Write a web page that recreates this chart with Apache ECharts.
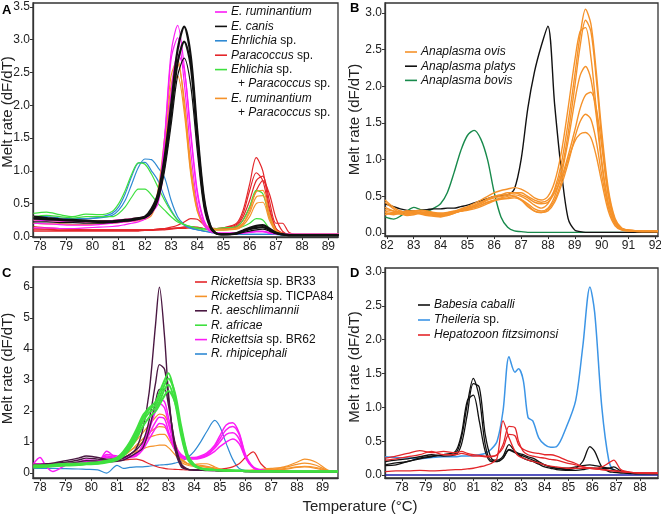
<!DOCTYPE html>
<html>
<head>
<meta charset="utf-8">
<script src="https://cdn.jsdelivr.net/npm/echarts@6/dist/echarts.min.js"></script>
<style>
  html, body { margin: 0; padding: 0; background: #fff; }
  #chart { width: 661px; height: 516px; }
</style>
</head>
<body>
<div id="chart"></div>
<script>
// ---- A: Ehrlichia / Paracoccus ----
var tA = [77.75, 78.25, 78.75, 79.25, 79.75, 80.25, 80.75, 81, 81.25, 81.5, 81.75, 82, 82.25, 82.5, 82.75, 83, 83.25, 83.5, 83.75, 84, 84.25, 84.5, 84.75, 85, 85.5, 85.75, 86, 86.25, 86.5, 86.75, 87, 87.25, 87.5, 88, 88.5, 89, 89.4];
var aRum1 = [0.2,0.19,0.18,0.17,0.17,0.18,0.2,0.21,0.22,0.23,0.25,0.3,0.4,0.6,1.5,2.8,3.22,2.6,1.55,0.65,0.22,0.08,0.05,0.05,0.05,0.06,0.07,0.08,0.08,0.06,0.04,0.03,0.03,0.03,0.03,0.03,0.03];
var aRum2 = [0.13,0.13,0.12,0.12,0.13,0.14,0.15,0.16,0.18,0.2,0.22,0.26,0.35,0.55,1.45,2.7,3.03,2.35,1.3,0.5,0.17,0.07,0.05,0.04,0.04,0.05,0.06,0.07,0.07,0.05,0.04,0.03,0.03,0.03,0.03,0.03,0.03];
var aRum3 = [0.25,0.24,0.23,0.22,0.22,0.23,0.24,0.25,0.26,0.27,0.28,0.3,0.36,0.5,1.1,2.2,2.78,2.55,1.6,0.7,0.25,0.09,0.05,0.05,0.05,0.05,0.06,0.07,0.07,0.05,0.04,0.03,0.03,0.03,0.03,0.03,0.03];
var aCanis1 = [0.3,0.28,0.26,0.25,0.24,0.23,0.23,0.24,0.25,0.26,0.28,0.3,0.42,0.65,1.2,2.0,2.85,3.2,2.75,1.6,0.6,0.16,0.04,0.03,0.05,0.09,0.13,0.16,0.17,0.12,0.06,0.03,0.02,0.02,0.02,0.02,0.02];
var aCanis2 = [0.27,0.26,0.25,0.24,0.23,0.22,0.22,0.23,0.24,0.25,0.27,0.29,0.38,0.6,1.1,1.85,2.65,2.97,2.6,1.5,0.55,0.15,0.04,0.03,0.04,0.08,0.11,0.13,0.14,0.1,0.05,0.03,0.02,0.02,0.02,0.02,0.02];
var aCanis3 = [0.22,0.22,0.21,0.21,0.2,0.2,0.21,0.22,0.23,0.24,0.26,0.28,0.35,0.55,1.0,1.7,2.45,2.72,2.3,1.3,0.45,0.12,0.04,0.03,0.04,0.06,0.08,0.1,0.11,0.08,0.04,0.03,0.02,0.02,0.02,0.02,0.02];
var aEhr1 = [0.3,0.3,0.28,0.27,0.27,0.28,0.32,0.4,0.55,0.8,1.05,1.18,1.17,1.05,0.9,0.55,0.3,0.18,0.13,0.1,0.08,0.06,0.05,0.04,0.03,0.03,0.03,0.03,0.03,0.03,0.03,0.02,0.02,0.02,0.02,0.02,0.02];
var aEhr2 = [0.28,0.27,0.26,0.26,0.27,0.29,0.35,0.45,0.65,0.92,1.12,1.13,1.0,0.85,0.6,0.4,0.25,0.17,0.12,0.1,0.08,0.06,0.05,0.04,0.03,0.03,0.03,0.03,0.03,0.03,0.03,0.02,0.02,0.02,0.02,0.02,0.02];
var aPara1 = [0.15,0.13,0.12,0.11,0.1,0.1,0.1,0.1,0.1,0.1,0.1,0.1,0.1,0.11,0.12,0.12,0.13,0.14,0.15,0.14,0.12,0.11,0.12,0.13,0.2,0.4,0.8,1.2,1.0,0.45,0.12,0.05,0.03,0.02,0.02,0.02,0.02];
var aPara2 = [0.12,0.11,0.1,0.1,0.1,0.1,0.1,0.1,0.1,0.1,0.1,0.1,0.1,0.11,0.12,0.14,0.17,0.22,0.27,0.26,0.18,0.13,0.12,0.13,0.18,0.35,0.7,0.97,0.85,0.4,0.12,0.05,0.03,0.02,0.02,0.02,0.02];
var aPara3 = [0.1,0.1,0.09,0.09,0.09,0.09,0.09,0.09,0.09,0.09,0.09,0.09,0.1,0.1,0.11,0.12,0.13,0.14,0.14,0.13,0.12,0.11,0.11,0.12,0.16,0.3,0.55,0.85,0.92,0.55,0.2,0.2,0.06,0.02,0.02,0.02,0.02];
var aPara4 = [0.08,0.08,0.08,0.08,0.08,0.08,0.08,0.08,0.08,0.08,0.08,0.09,0.09,0.1,0.1,0.11,0.12,0.12,0.13,0.13,0.12,0.11,0.11,0.12,0.14,0.25,0.45,0.7,0.85,0.65,0.28,0.08,0.03,0.02,0.02,0.02,0.02];
var aMixE1 = [0.35,0.37,0.33,0.3,0.34,0.33,0.38,0.5,0.7,0.95,1.12,1.1,0.95,0.75,0.55,0.38,0.25,0.18,0.15,0.12,0.1,0.1,0.1,0.1,0.12,0.15,0.2,0.27,0.25,0.12,0.05,0.03,0.03,0.03,0.03,0.03,0.03];
var aMixE2 = [0.3,0.32,0.3,0.28,0.3,0.3,0.3,0.35,0.45,0.6,0.72,0.72,0.63,0.5,0.4,0.3,0.22,0.18,0.15,0.13,0.12,0.12,0.12,0.13,0.15,0.25,0.45,0.7,0.65,0.3,0.08,0.04,0.03,0.03,0.03,0.03,0.03];
var aMixR1 = [0.25,0.24,0.23,0.22,0.22,0.22,0.23,0.24,0.25,0.26,0.27,0.29,0.36,0.7,1.5,2.45,2.7,2.0,1.0,0.4,0.18,0.12,0.1,0.1,0.12,0.2,0.4,0.68,0.7,0.35,0.1,0.04,0.03,0.03,0.03,0.03,0.03];
var aMixR2 = [0.2,0.19,0.19,0.18,0.18,0.19,0.2,0.21,0.22,0.23,0.24,0.26,0.32,0.6,1.35,2.3,2.63,2.1,1.1,0.45,0.2,0.13,0.11,0.11,0.13,0.2,0.36,0.6,0.62,0.3,0.09,0.04,0.03,0.03,0.03,0.03,0.03];
var aMixR3 = [0.3,0.28,0.26,0.25,0.24,0.24,0.24,0.25,0.26,0.27,0.28,0.3,0.38,0.65,1.3,2.15,2.45,1.9,0.95,0.38,0.17,0.11,0.1,0.1,0.11,0.17,0.3,0.5,0.52,0.25,0.07,0.03,0.03,0.03,0.03,0.03,0.03];

// ---- B: Anaplasma ----
var tB = [81.93, 82.25, 82.5, 82.75, 83, 83.25, 83.5, 83.75, 84, 84.25, 84.5, 84.75, 85, 85.25, 85.5, 85.75, 86, 86.25, 86.5, 86.75, 87, 87.25, 87.5, 87.75, 88, 88.25, 88.5, 88.75, 89, 89.2, 89.4, 89.6, 89.8, 90, 90.25, 90.5, 90.75, 91, 91.5, 92.1];
var bOvis1 = [0.3,0.28,0.3,0.27,0.26,0.28,0.27,0.25,0.24,0.26,0.28,0.3,0.32,0.35,0.38,0.42,0.45,0.48,0.5,0.52,0.5,0.45,0.38,0.34,0.4,0.6,0.95,1.5,2.15,2.7,3.05,2.85,2.2,1.4,0.6,0.2,0.07,0.04,0.03,0.03];
var bOvis2 = [0.42,0.33,0.28,0.3,0.3,0.27,0.25,0.26,0.27,0.25,0.27,0.31,0.34,0.36,0.4,0.45,0.48,0.5,0.52,0.55,0.55,0.5,0.45,0.42,0.45,0.58,0.85,1.35,2.0,2.55,2.9,2.75,2.1,1.3,0.55,0.18,0.06,0.04,0.03,0.02];
var bOvis3 = [0.35,0.3,0.27,0.25,0.27,0.28,0.29,0.27,0.25,0.27,0.29,0.33,0.36,0.4,0.45,0.5,0.55,0.58,0.6,0.62,0.6,0.55,0.48,0.45,0.5,0.7,1.1,1.7,2.35,2.75,2.8,2.4,1.7,1.0,0.4,0.15,0.06,0.04,0.03,0.03];
var bOvis4 = [0.28,0.25,0.27,0.3,0.28,0.26,0.24,0.23,0.22,0.24,0.27,0.3,0.32,0.35,0.38,0.42,0.45,0.47,0.48,0.5,0.46,0.4,0.33,0.3,0.34,0.5,0.8,1.25,1.8,2.15,2.27,2.1,1.6,0.95,0.4,0.14,0.05,0.03,0.02,0.02];
var bOvis5 = [0.45,0.35,0.3,0.28,0.3,0.31,0.3,0.28,0.27,0.28,0.3,0.32,0.35,0.38,0.42,0.46,0.5,0.52,0.55,0.55,0.52,0.48,0.42,0.4,0.42,0.55,0.75,1.05,1.4,1.7,1.88,1.92,1.7,1.2,0.5,0.16,0.06,0.04,0.03,0.03];
var bOvis6 = [0.25,0.27,0.26,0.24,0.25,0.27,0.26,0.24,0.23,0.25,0.28,0.3,0.31,0.33,0.36,0.4,0.44,0.46,0.47,0.48,0.45,0.38,0.3,0.28,0.3,0.42,0.65,0.95,1.3,1.52,1.62,1.55,1.25,0.8,0.35,0.12,0.05,0.03,0.02,0.02];
var bOvis7 = [0.32,0.3,0.28,0.27,0.28,0.29,0.28,0.26,0.25,0.26,0.28,0.3,0.33,0.37,0.42,0.47,0.5,0.52,0.52,0.5,0.45,0.36,0.3,0.28,0.32,0.45,0.7,1.0,1.25,1.35,1.37,1.3,1.05,0.7,0.3,0.1,0.04,0.03,0.02,0.02];
var bPlatys = [0.4,0.36,0.33,0.31,0.3,0.31,0.32,0.33,0.33,0.34,0.34,0.36,0.38,0.41,0.44,0.47,0.5,0.51,0.52,0.6,1.0,1.7,2.2,2.55,2.82,1.75,0.85,0.2,0.04,0.02,0.01,0.01,0.01,0.01,0.01,0.01,0.01,0.01,0.01,0.01];
var bBovis = [0.22,0.19,0.23,0.3,0.35,0.32,0.3,0.34,0.4,0.55,0.82,1.12,1.33,1.4,1.28,1.0,0.55,0.22,0.08,0.03,0.02,0.01,0.01,0.01,0.01,0.01,0.01,0.01,0.01,0.01,0.01,0.01,0.01,0.01,0.01,0.01,0.01,0.01,0.01,0.01];

// ---- C: Rickettsia ----
var tC = [77.75, 78, 78.25, 78.5, 79, 79.5, 79.8, 80.25, 80.6, 81, 81.25, 81.5, 81.75, 82, 82.25, 82.5, 82.65, 82.85, 83, 83.25, 83.5, 83.75, 84, 84.25, 84.5, 84.8, 85, 85.25, 85.5, 85.75, 86, 86.3, 86.6, 87, 87.5, 88, 88.3, 88.75, 89.2, 89.6];
var cBR33 = [0.3,0.3,0.3,0.31,0.32,0.33,0.35,0.36,0.38,0.4,0.42,0.44,0.45,0.4,0.3,0.22,0.18,0.15,0.13,0.12,0.11,0.1,0.1,0.1,0.1,0.1,0.12,0.15,0.2,0.3,0.5,0.68,0.3,0.05,0.03,0.02,0.02,0.02,0.02,0.02];
var cTic1 = [0.25,0.25,0.26,0.27,0.28,0.3,0.32,0.35,0.4,0.5,0.62,0.8,1.05,1.3,1.55,1.8,1.9,1.85,1.6,1.0,0.5,0.3,0.25,0.22,0.2,0.15,0.12,0.1,0.08,0.08,0.08,0.1,0.12,0.15,0.2,0.35,0.45,0.35,0.1,0.05];
var cTic2 = [0.2,0.22,0.22,0.23,0.25,0.27,0.3,0.33,0.38,0.45,0.55,0.7,0.9,1.1,1.3,1.45,1.5,1.48,1.3,0.85,0.45,0.3,0.28,0.3,0.3,0.2,0.14,0.1,0.08,0.07,0.07,0.08,0.1,0.12,0.18,0.28,0.32,0.25,0.08,0.04];
var cTic3 = [0.28,0.28,0.27,0.27,0.28,0.3,0.33,0.36,0.42,0.5,0.6,0.72,0.85,1.0,1.15,1.22,1.25,1.25,1.1,0.75,0.42,0.3,0.27,0.25,0.22,0.16,0.12,0.1,0.08,0.07,0.07,0.08,0.09,0.1,0.14,0.2,0.22,0.18,0.07,0.04];
var cTic4 = [0.22,0.22,0.23,0.24,0.25,0.27,0.3,0.32,0.35,0.42,0.5,0.6,0.7,0.78,0.85,0.88,0.9,0.9,0.82,0.6,0.35,0.25,0.22,0.2,0.18,0.14,0.1,0.08,0.07,0.06,0.06,0.07,0.08,0.09,0.12,0.18,0.2,0.15,0.06,0.03];
var cAesch1 = [0.28,0.28,0.3,0.32,0.4,0.48,0.55,0.5,0.45,0.45,0.5,0.6,0.8,1.4,2.6,4.8,6.0,4.4,2.6,0.8,0.2,0.12,0.1,0.1,0.1,0.1,0.08,0.07,0.07,0.07,0.06,0.05,0.05,0.05,0.05,0.04,0.04,0.04,0.04,0.04];
var cAesch2 = [0.25,0.26,0.28,0.3,0.35,0.42,0.48,0.45,0.42,0.42,0.48,0.6,0.75,1.0,1.7,2.9,3.5,3.35,2.4,0.9,0.25,0.12,0.1,0.09,0.09,0.08,0.07,0.07,0.06,0.06,0.05,0.05,0.05,0.05,0.05,0.04,0.04,0.04,0.04,0.04];
var cAesch3 = [0.22,0.24,0.25,0.27,0.3,0.36,0.4,0.38,0.36,0.38,0.42,0.52,0.65,0.8,1.4,2.3,2.7,2.7,2.2,1.0,0.3,0.13,0.1,0.09,0.08,0.08,0.07,0.06,0.06,0.06,0.05,0.05,0.05,0.05,0.05,0.04,0.04,0.04,0.04,0.04];
var cAfr1 = [0.25,0.25,0.25,0.27,0.3,0.3,0.32,0.35,0.4,0.5,0.7,1.0,1.4,1.85,2.1,2.3,2.6,3.0,3.22,2.5,1.3,0.5,0.25,0.15,0.12,0.1,0.09,0.08,0.08,0.07,0.07,0.06,0.06,0.06,0.05,0.05,0.05,0.05,0.05,0.05];
var cAfr2 = [0.22,0.22,0.23,0.25,0.28,0.3,0.3,0.33,0.38,0.48,0.65,0.92,1.3,1.75,2.05,2.2,2.45,2.85,3.05,2.6,1.5,0.6,0.28,0.16,0.12,0.1,0.09,0.08,0.08,0.07,0.07,0.06,0.06,0.06,0.05,0.05,0.05,0.05,0.05,0.05];
var cAfr3 = [0.2,0.2,0.21,0.23,0.26,0.28,0.29,0.31,0.36,0.45,0.6,0.85,1.2,1.65,1.95,2.1,2.3,2.7,2.85,2.3,1.2,0.45,0.22,0.14,0.11,0.1,0.09,0.08,0.07,0.07,0.06,0.06,0.06,0.05,0.05,0.05,0.05,0.05,0.05,0.05];
var cAfr4 = [0.18,0.19,0.2,0.22,0.24,0.26,0.28,0.3,0.34,0.42,0.55,0.78,1.1,1.5,1.8,2.0,2.2,2.5,2.65,2.3,1.4,0.55,0.25,0.15,0.11,0.1,0.09,0.08,0.07,0.07,0.06,0.06,0.06,0.05,0.05,0.05,0.05,0.05,0.05,0.05];
var cBR62a = [0.3,0.5,0.2,0.05,0.25,0.35,0.4,0.35,0.7,0.5,0.5,0.55,0.6,0.9,1.4,2.0,2.25,2.1,1.6,0.9,0.6,0.5,0.5,0.55,0.65,0.9,1.2,1.55,1.62,1.3,0.6,0.2,0.1,0.07,0.06,0.05,0.05,0.05,0.05,0.05];
var cBR62b = [0.25,0.3,0.3,0.28,0.3,0.35,0.42,0.4,0.6,0.55,0.52,0.55,0.6,0.85,1.25,1.65,1.8,1.75,1.35,0.8,0.55,0.48,0.48,0.52,0.6,0.85,1.1,1.4,1.5,1.25,0.55,0.18,0.09,0.07,0.06,0.05,0.05,0.05,0.05,0.05];
var cBR62c = [0.28,0.3,0.28,0.27,0.3,0.33,0.38,0.38,0.5,0.48,0.48,0.5,0.55,0.75,1.1,1.45,1.6,1.55,1.25,0.75,0.5,0.45,0.45,0.48,0.55,0.7,0.85,1.0,1.1,0.95,0.5,0.17,0.08,0.06,0.05,0.05,0.05,0.05,0.05,0.05];
var cBR62d = [0.26,0.28,0.27,0.26,0.28,0.32,0.36,0.36,0.55,0.5,0.5,0.52,0.6,0.9,1.5,2.1,2.38,2.3,1.8,0.95,0.55,0.48,0.47,0.5,0.58,0.8,1.0,1.25,1.3,1.1,0.5,0.17,0.08,0.06,0.05,0.05,0.05,0.05,0.05,0.05];
var cRhip = [0.15,0.15,0.15,0.15,0.14,0.13,0.12,0.1,0.0,0.25,0.15,0.18,0.2,0.2,0.22,0.25,0.26,0.27,0.28,0.32,0.38,0.5,0.7,1.0,1.35,1.7,1.5,0.95,0.45,0.15,0.08,0.06,0.05,0.05,0.05,0.05,0.05,0.05,0.05,0.05];

// ---- D: Babesia / Theileria / Hepatozoon ----
var tD = [77.3, 77.75, 78.25, 78.75, 79.25, 79.75, 80.25, 80.5, 80.75, 81, 81.25, 81.5, 81.75, 82, 82.25, 82.5, 82.75, 82.9, 83.1, 83.3, 83.5, 83.75, 84, 84.25, 84.5, 84.9, 85.3, 85.6, 85.9, 86.1, 86.4, 86.7, 86.9, 87.2, 87.6, 88, 88.76];
var dCab1 = [0.15,0.18,0.2,0.25,0.28,0.3,0.32,0.55,1.05,1.43,1.15,0.45,0.22,0.22,0.28,0.45,0.35,0.32,0.3,0.27,0.25,0.2,0.15,0.12,0.1,0.08,0.1,0.2,0.42,0.35,0.12,0.05,0.04,0.03,0.02,0.02,0.02];
var dCab2 = [0.2,0.22,0.24,0.27,0.3,0.28,0.3,0.45,0.9,1.35,1.3,0.6,0.25,0.2,0.25,0.37,0.33,0.3,0.28,0.25,0.22,0.18,0.15,0.12,0.1,0.1,0.12,0.14,0.15,0.14,0.12,0.1,0.08,0.05,0.03,0.02,0.02];
var dCab3 = [0.14,0.15,0.2,0.24,0.27,0.3,0.35,0.6,1.1,1.18,0.8,0.35,0.2,0.2,0.25,0.38,0.34,0.3,0.25,0.22,0.2,0.16,0.12,0.1,0.08,0.07,0.07,0.08,0.1,0.1,0.09,0.1,0.12,0.06,0.03,0.02,0.02];
var dThei = [0.27,0.26,0.25,0.24,0.26,0.27,0.27,0.28,0.28,0.29,0.3,0.32,0.38,0.5,0.95,1.75,1.52,1.57,1.4,0.85,0.8,0.55,0.45,0.41,0.42,0.7,1.1,1.9,2.78,2.4,1.0,0.2,0.07,0.04,0.03,0.02,0.02];
var dHep1 = [0.05,0.06,0.06,0.07,0.06,0.07,0.08,0.08,0.09,0.1,0.12,0.14,0.17,0.25,0.8,0.55,0.35,0.28,0.25,0.22,0.2,0.18,0.15,0.13,0.12,0.1,0.1,0.1,0.1,0.1,0.12,0.18,0.22,0.08,0.04,0.03,0.02];
var dHep2 = [0.25,0.28,0.32,0.36,0.33,0.35,0.33,0.35,0.32,0.3,0.29,0.28,0.28,0.3,0.45,0.72,0.7,0.5,0.35,0.3,0.28,0.26,0.25,0.23,0.22,0.18,0.15,0.12,0.1,0.09,0.08,0.07,0.06,0.05,0.04,0.03,0.03];
var dHep3 = [0.22,0.24,0.27,0.3,0.35,0.3,0.3,0.32,0.3,0.28,0.28,0.27,0.27,0.3,0.4,0.6,0.58,0.45,0.38,0.35,0.33,0.32,0.3,0.3,0.28,0.22,0.17,0.12,0.1,0.09,0.08,0.07,0.06,0.05,0.04,0.03,0.03];
var tCtrl = [77.3, 88.76];
var dCtrl = [0, 0];

// tick labels
var xTicksA = [78, 79, 80, 81, 82, 83, 84, 85, 86, 87, 88, 89];
var yTicksA = [0, 0.5, 1, 1.5, 2, 2.5, 3, 3.5];
var xTicksB = [82, 83, 84, 85, 86, 87, 88, 89, 90, 91, 92];
var yTicksB = [0, 0.5, 1, 1.5, 2, 2.5, 3];
var xTicksC = [78, 79, 80, 81, 82, 83, 84, 85, 86, 87, 88, 89];
var yTicksC = [0, 1, 2, 3, 4, 5, 6];
var xTicksD = [78, 79, 80, 81, 82, 83, 84, 85, 86, 87, 88];
var yTicksD = [0, 0.5, 1, 1.5, 2, 2.5, 3];

var FONT = 'Liberation Sans, Arial, sans-serif';
var AX = '#333';

function pairs(xs, ys) {
  return xs.map(function (x, i) { return [x, ys[i]]; });
}

function line(idx, xs, ys, color, width) {
  return {
    type: 'line',
    xAxisIndex: idx,
    yAxisIndex: idx,
    data: pairs(xs, ys),
    showSymbol: false,
    smooth: 0.3,
    silent: true,
    lineStyle: { color: color, width: width || 1.2 },
    itemStyle: { color: color }
  };
}

function xAxis(idx, min, max, ticks) {
  return {
    type: 'value', gridIndex: idx, min: min, max: max,
    splitLine: { show: false },
    axisLine: { show: true, onZero: false, lineStyle: { color: AX, width: 1.3 } },
    axisTick: { show: true, length: 3, customValues: ticks, lineStyle: { color: AX } },
    axisLabel: { customValues: ticks, margin: 4, fontSize: 12, color: '#222', fontFamily: FONT }
  };
}

// shift: moves the rotated axis title up along the axis (px)
function yAxis(idx, min, max, ticks, digits, gap, shift) {
  return {
    type: 'value', gridIndex: idx, min: min, max: max,
    name: 'Melt rate (dF/dT)', nameLocation: 'middle', nameGap: gap, nameMoveOverlap: false,
    nameTextStyle: { fontSize: 15, color: '#222', fontFamily: FONT, padding: [0, 0, 0, shift * 2] },
    splitLine: { show: false },
    axisLine: { show: true, onZero: false, lineStyle: { color: AX, width: 1.3 } },
    axisTick: { show: true, length: 3, customValues: ticks, lineStyle: { color: AX } },
    axisLabel: {
      customValues: ticks, margin: 3, fontSize: 12, color: '#222', fontFamily: FONT,
      formatter: function (v) { return v.toFixed(digits); }
    }
  };
}

// legend drawn as graphic: short coloured line + italic/roman rich text
function legend(x, y, gap, entries) {
  var els = [];
  var row = 0;
  entries.forEach(function (e) {
    var cy = y + row * gap;
    els.push({
      type: 'line', silent: true,
      shape: { x1: x, y1: cy, x2: x + 12, y2: cy },
      style: { stroke: e.color, lineWidth: 1.6 }
    });
    els.push(legendText(x + 16, cy, e.text));
    row++;
    if (e.sub) {
      els.push(legendText(x + 23, y + row * gap, e.sub));
      row++;
    }
  });
  return els;
}

function legendText(x, y, text) {
  return {
    type: 'text', silent: true, x: x, y: y,
    style: {
      text: text, fontSize: 12, fontFamily: FONT, fill: '#111', verticalAlign: 'middle',
      rich: { i: { fontStyle: 'italic', fontSize: 12, fontFamily: FONT, fill: '#111' } }
    }
  };
}

function letter(x, y, s) {
  return {
    type: 'text', silent: true, x: x, y: y,
    style: { text: s, fontSize: 13, fontWeight: 'bold', fontFamily: FONT, fill: '#000', verticalAlign: 'middle' }
  };
}

var cMag = '#fb1cf6', cBlack = '#111111', cBlue = '#2f8ad3', cRed = '#e4262a', cGreen = '#3fe03f', cOrange = '#f5922a';
var cBovis = '#188a4c', cPurple = '#4a1842', cTheil = '#3c95e6', cNavy = '#1c1caa';

var series = [
  // A
  line(0, tA, aPara4, cRed), line(0, tA, aPara3, cRed), line(0, tA, aPara2, cRed), line(0, tA, aPara1, cRed),
  line(0, tA, aEhr2, cBlue), line(0, tA, aEhr1, cBlue),
  line(0, tA, aMixE2, cGreen), line(0, tA, aMixE1, cGreen),
  line(0, tA, aMixR3, cOrange), line(0, tA, aMixR2, cOrange), line(0, tA, aMixR1, cOrange),
  line(0, tA, aRum3, cMag), line(0, tA, aRum2, cMag), line(0, tA, aRum1, cMag),
  line(0, tA, aCanis3, cBlack, 1.2), line(0, tA, aCanis2, cBlack, 2.2), line(0, tA, aCanis1, cBlack, 2.2),
  // B
  line(1, tB, bBovis, cBovis, 1.4), line(1, tB, bPlatys, cBlack, 1.4),
  line(1, tB, bOvis7, cOrange, 1.4), line(1, tB, bOvis6, cOrange, 1.4), line(1, tB, bOvis5, cOrange, 1.4),
  line(1, tB, bOvis4, cOrange, 1.4), line(1, tB, bOvis3, cOrange, 1.4), line(1, tB, bOvis2, cOrange, 1.4),
  line(1, tB, bOvis1, cOrange, 1.4),
  // C
  line(2, tC, cRhip, cBlue), line(2, tC, cBR33, cRed),
  line(2, tC, cTic4, cOrange), line(2, tC, cTic3, cOrange), line(2, tC, cTic2, cOrange), line(2, tC, cTic1, cOrange),
  line(2, tC, cBR62c, cMag, 1.5), line(2, tC, cBR62b, cMag, 1.5), line(2, tC, cBR62d, cMag, 1.5), line(2, tC, cBR62a, cMag, 1.5),
  line(2, tC, cAesch3, cPurple, 1.4), line(2, tC, cAesch2, cPurple, 1.4), line(2, tC, cAesch1, cPurple, 1.4),
  line(2, tC, cAfr4, cGreen, 2), line(2, tC, cAfr3, cGreen, 2), line(2, tC, cAfr2, cGreen, 2), line(2, tC, cAfr1, cGreen, 2),
  // D
  line(3, tCtrl, dCtrl, cNavy, 1.6),
  line(3, tD, dThei, cTheil, 1.5),
  line(3, tD, dCab3, cBlack, 1.3), line(3, tD, dCab2, cBlack, 1.3), line(3, tD, dCab1, cBlack, 1.3),
  line(3, tD, dHep3, cRed, 1.3), line(3, tD, dHep2, cRed, 1.3), line(3, tD, dHep1, cRed, 1.3)
];

var graphics = [].concat(
  legend(215, 12, 14.4, [
    { color: cMag, text: '{i|E. ruminantium}' },
    { color: cBlack, text: '{i|E. canis}' },
    { color: cBlue, text: '{i|Ehrlichia} sp.' },
    { color: cRed, text: '{i|Paracoccus} sp.' },
    { color: cGreen, text: '{i|Ehlichia} sp.', sub: '+ {i|Paracoccus} sp.' },
    { color: cOrange, text: '{i|E. ruminantium}', sub: '+ {i|Paracoccus} sp.' }
  ]),
  legend(405, 52, 14.2, [
    { color: cOrange, text: '{i|Anaplasma ovis}' },
    { color: cBlack, text: '{i|Anaplasma platys}' },
    { color: cBovis, text: '{i|Anaplasma bovis}' }
  ]),
  legend(195, 282, 14.4, [
    { color: cRed, text: '{i|Rickettsia} sp. BR33' },
    { color: cOrange, text: '{i|Rickettsia} sp. TICPA84' },
    { color: cPurple, text: '{i|R. aeschlimannii}' },
    { color: cGreen, text: '{i|R. africae}' },
    { color: cMag, text: '{i|Rickettsia} sp. BR62' },
    { color: cBlue, text: '{i|R. rhipicephali}' }
  ]),
  legend(418, 305, 15, [
    { color: cBlack, text: '{i|Babesia caballi}' },
    { color: cTheil, text: '{i|Theileria} sp.' },
    { color: cRed, text: '{i|Hepatozoon fitzsimonsi}' }
  ]),
  [
    letter(2, 10, 'A'), letter(350, 8, 'B'), letter(2, 273, 'C'), letter(350, 273, 'D'),
    {
      type: 'text', silent: true, x: 360, y: 507,
      style: { text: 'Temperature (\u00b0C)', fontSize: 15, fontFamily: FONT, fill: '#222', align: 'center', verticalAlign: 'middle' }
    }
  ]
);

var gridBase = { show: true, borderColor: AX, borderWidth: 1.3, backgroundColor: '#fff', containLabel: false, outerBoundsMode: 'none' };

var option = {
  animation: false,
  backgroundColor: '#fff',
  grid: [
    Object.assign({ left: 33, top: 3, width: 305, height: 234 }, gridBase),
    Object.assign({ left: 385, top: 3, width: 273, height: 233 }, gridBase),
    Object.assign({ left: 33, top: 267, width: 305, height: 211 }, gridBase),
    Object.assign({ left: 385, top: 268, width: 273, height: 210 }, gridBase)
  ],
  xAxis: [
    xAxis(0, 77.73, 89.37, xTicksA),
    xAxis(1, 81.93, 92.1, xTicksB),
    xAxis(2, 77.73, 89.6, xTicksC),
    xAxis(3, 77.29, 88.76, xTicksD)
  ],
  yAxis: [
    yAxis(0, -0.01, 3.56, yTicksA, 1, 18, 8),
    yAxis(1, -0.04, 3.136, yTicksB, 1, 23, 0),
    yAxis(2, -0.16, 6.65, yTicksC, 0, 18, 4),
    yAxis(3, -0.044, 3.06, yTicksD, 1, 23, 6)
  ],
  series: series,
  graphic: graphics
};

var chart = echarts.init(document.getElementById('chart'), null, { renderer: 'canvas' });
chart.setOption(option);
</script>
</body>
</html>
